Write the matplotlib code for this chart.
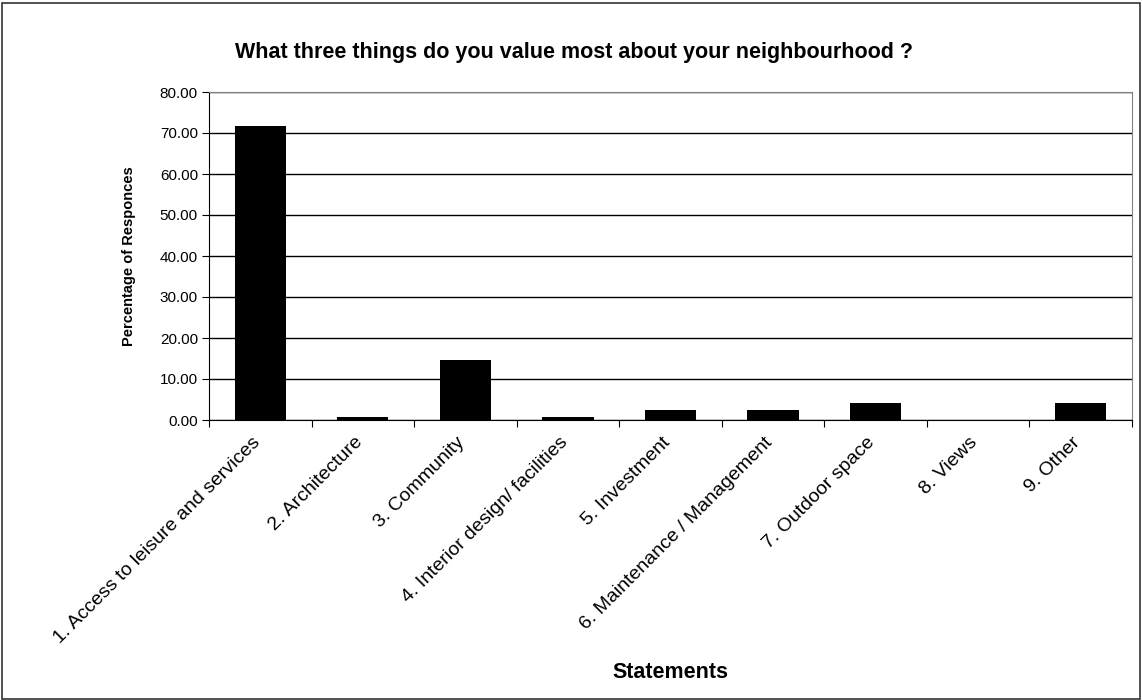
import numpy as np
import matplotlib.pyplot as plt
import matplotlib.transforms as mtransforms
from matplotlib.patches import Rectangle

plt.rcParams['font.family'] = ['Liberation Sans', 'DejaVu Sans']

statements = ['1. Access to leisure and services', '2. Architecture', '3. Community',
              '4. Interior design/ facilities', '5. Investment',
              '6. Maintenance / Management', '7. Outdoor space', '8. Views', '9. Other']
percent = [71.77, 0.81, 14.52, 0.81, 2.42, 2.42, 4.03, 0.0, 4.03]
y_ticks = [0, 10, 20, 30, 40, 50, 60, 70, 80]

fig = plt.figure(figsize=(11.42, 7), dpi=100)
ax = fig.add_axes([209 / 1142, 1 - 420 / 700, (1132 - 209) / 1142, (420 - 92) / 700])

x = np.arange(len(statements))
ax.bar(x, percent, width=0.5, color='black', zorder=3)

ax.set_xlim(-0.5, len(statements) - 0.5)
ax.set_ylim(0, 80)
ax.set_yticks(y_ticks)
ax.set_yticklabels([f'{v:.2f}' for v in y_ticks], fontsize=11)
ax.yaxis.grid(True, color='black', linewidth=1)
ax.set_axisbelow(True)

# category ticks sit between the bars, labels under each bar
ax.set_xticks(np.arange(len(statements) + 1) - 0.5)
ax.set_xticklabels([])
ax.set_xticks(x, minor=True)
ax.set_xticklabels(statements, minor=True, rotation=45, ha='right',
                   rotation_mode='anchor', fontsize=14)
ax.tick_params(axis='x', which='minor', length=0, pad=10)
ax.tick_params(axis='x', which='major', length=5, direction='out')
ax.tick_params(axis='y', length=5, direction='out', pad=3)

# nudge the slanted labels a little to the left
shift = mtransforms.ScaledTranslation(-9 / 100, 0, fig.dpi_scale_trans)
for lbl in ax.get_xticklabels(minor=True):
    lbl.set_transform(lbl.get_transform() + shift)

ax.spines['top'].set_color('#808080')
ax.spines['right'].set_color('#808080')

ax.set_ylabel('Percentage of Responces', fontsize=10.5, fontweight='bold')
ax.yaxis.set_label_coords(-0.079, 0.5)
ax.set_xlabel('Statements', fontsize=15.5, fontweight='bold')
ax.xaxis.set_label_coords(0.5, (420 - 672) / 328, transform=ax.transAxes)
ax.xaxis.label.set_va('center')

fig.text(0.503, 0.925, 'What three things do you value most about your neighbourhood ?',
         ha='center', va='center', fontsize=15.5, fontweight='bold')

# border around the whole chart
fig.patches.append(Rectangle((0.002, 0.002), 0.996, 0.994, transform=fig.transFigure,
                             fill=False, edgecolor='#333333', linewidth=1.2))

fig.savefig('out.png', dpi=100)
